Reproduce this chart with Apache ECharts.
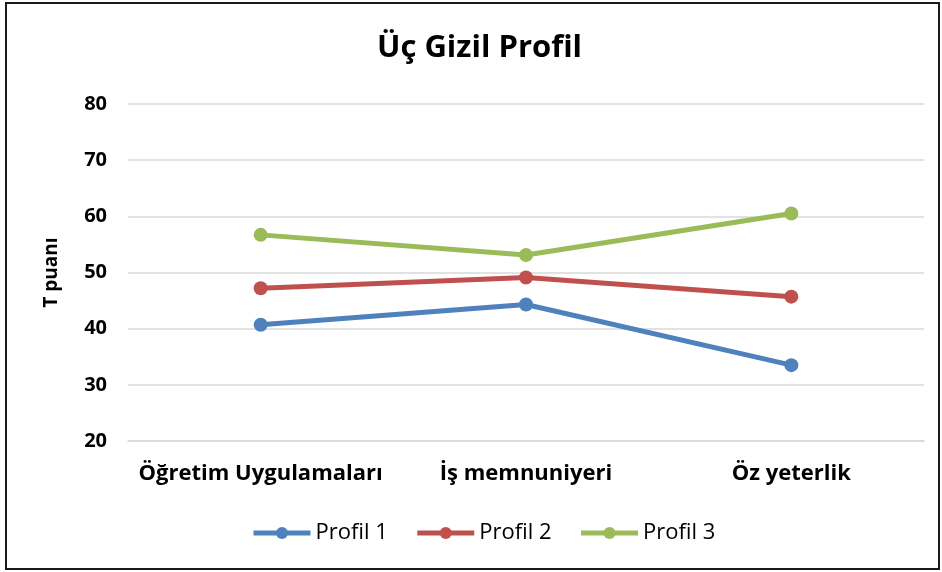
<!DOCTYPE html>
<html>
<head>
<meta charset="utf-8">
<script src="https://cdn.jsdelivr.net/npm/echarts@6/dist/echarts.min.js"></script>
<style>
  html, body { margin: 0; padding: 0; background: #fff; }
  #main { width: 942px; height: 572px; }
</style>
</head>
<body>
<div id="main"></div>
<script>
// veriler
var categories = ['Öğretim Uygulamaları', 'İş memnuniyeri', 'Öz yeterlik'];
var profil1 = [40.7, 44.3, 33.5];
var profil2 = [47.2, 49.1, 45.7];
var profil3 = [56.7, 53.1, 60.5];
var seriesNames = ['Profil 1', 'Profil 2', 'Profil 3'];
var seriesColors = ['#4f81bd', '#c0504d', '#9bbb59'];

var font = '"Open Sans", "Noto Sans", sans-serif';
var chart = echarts.init(document.getElementById('main'));

function makeSeries(name, data, color) {
    return {
        name: name,
        type: 'line',
        data: data,
        symbol: 'circle',
        symbolSize: 14,
        lineStyle: { width: 5, color: color },
        itemStyle: { color: color },
        emphasis: { disabled: true }
    };
}

chart.setOption({
    animation: false,
    // cerceve
    graphic: [{
        type: 'rect',
        shape: { x: 6, y: 3, width: 933, height: 566 },
        style: { fill: 'none', stroke: '#1a1a1a', lineWidth: 2 },
        silent: true
    }],
    title: {
        text: 'Üç Gizil Profil',
        left: 372,
        top: 28,
        textStyle: { fontFamily: font, fontSize: 31, fontWeight: 'bold', color: '#000' }
    },
    legend: {
        top: 517,
        left: 246,
        itemWidth: 57,
        itemHeight: 15,
        itemGap: 27,
        data: seriesNames,
        lineStyle: { width: 5 },
        textStyle: { fontFamily: font, fontSize: 22, color: '#000' }
    },
    grid: { left: 128, right: 18, top: 104, bottom: 131, containLabel: false },
    xAxis: {
        type: 'category',
        data: categories,
        boundaryGap: true,
        axisLine: { lineStyle: { color: '#d9d9d9', width: 1.5 } },
        axisTick: { show: false },
        axisLabel: { interval: 0, margin: 22, fontFamily: font, fontSize: 22, fontWeight: 'bold', color: '#000' }
    },
    yAxis: {
        type: 'value',
        min: 20,
        max: 80,
        interval: 10,
        name: 'T puanı',
        nameLocation: 'middle',
        nameGap: 67,
        nameTextStyle: { fontFamily: font, fontSize: 19, fontWeight: 'bold', color: '#000' },
        axisLine: { show: false },
        axisTick: { show: false },
        axisLabel: { margin: 21, fontFamily: font, fontSize: 20, fontWeight: 'bold', color: '#000' },
        splitLine: { lineStyle: { color: '#d9d9d9', width: 1.5 } }
    },
    series: [
        makeSeries(seriesNames[0], profil1, seriesColors[0]),
        makeSeries(seriesNames[1], profil2, seriesColors[1]),
        makeSeries(seriesNames[2], profil3, seriesColors[2])
    ]
});
</script>
</body>
</html>
